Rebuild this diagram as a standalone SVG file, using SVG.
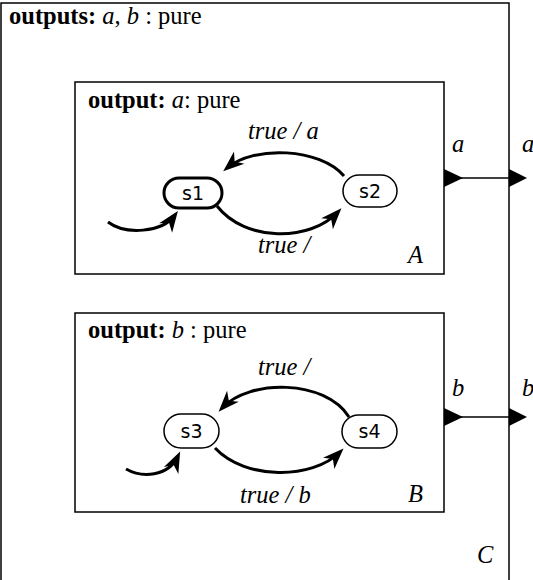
<svg xmlns="http://www.w3.org/2000/svg" width="533" height="580" viewBox="0 0 533 580">
<style>
.box{fill:#fff;stroke:#000;stroke-width:1.5}
.st{fill:#fff;stroke:#000;stroke-width:1.5}
.init{stroke-width:3}
.lbl{font-family:"Liberation Serif",serif;font-size:24.5px;fill:#000}
.b{font-weight:bold}
.i{font-style:italic}
.sn{font-family:"DejaVu Sans",sans-serif;font-size:19px;fill:#000;text-anchor:middle}
.tr{fill:none;stroke:#000;stroke-width:3}
.conn{stroke:#000;stroke-width:1.5}
</style>
<defs>
<marker id="ah" markerUnits="userSpaceOnUse" markerWidth="26" markerHeight="20" viewBox="0 -10 22 20" refX="16" refY="0" orient="auto">
<path d="M0,-8 L21,0 L0,8 L6,0 z" fill="#000"/>
</marker>
</defs>
<g id="C">
<rect class="box" x="1" y="3" width="508" height="600"/>
<text class="lbl" x="9" y="24"><tspan class="b">outputs:</tspan> <tspan class="i">a</tspan>, <tspan class="i">b</tspan> : pure</text>
<text class="lbl i" x="477" y="563">C</text>
</g>
<g id="A">
<rect class="box" x="75" y="82" width="369" height="192"/>
<text class="lbl" x="88" y="108"><tspan class="b">output:</tspan> <tspan class="i">a</tspan>: pure</text>
<text class="lbl i" x="408" y="263">A</text>
</g>
<g id="s1">
<rect class="st init" x="164" y="178" width="58" height="30" rx="15"/>
<text class="sn" x="193" y="200">s1</text>
</g>
<g id="s2">
<rect class="st" x="343" y="175" width="54" height="32" rx="16"/>
<text class="sn" x="370" y="198">s2</text>
</g>
<g id="B">
<rect class="box" x="75" y="313" width="369" height="199"/>
<text class="lbl" x="88" y="338"><tspan class="b">output:</tspan> <tspan class="i">b</tspan> : pure</text>
<text class="lbl i" x="408" y="502">B</text>
</g>
<g id="s3">
<rect class="st" x="164" y="414" width="55" height="34" rx="17"/>
<text class="sn" x="191.5" y="438">s3</text>
</g>
<g id="s4">
<rect class="st" x="342" y="415" width="55" height="33" rx="16.5"/>
<text class="sn" x="369.5" y="438">s4</text>
</g>
<g id="connectors">
<path class="tr" d="M108,222 C125,235 162,233 175,215" marker-end="url(#ah)"/>
<path class="tr" d="M344,176 C320,148 254,145 227,168" marker-end="url(#ah)"/>
<path class="tr" d="M217,206 C245,242 310,242 338,212" marker-end="url(#ah)"/>
<text class="lbl i" x="248" y="139">true / a</text>
<text class="lbl i" x="258" y="253">true /</text>
<path class="tr" d="M126,469 C142,478 168,477 178,456" marker-end="url(#ah)"/>
<path class="tr" d="M349,417 C325,379 249,379 222,408" marker-end="url(#ah)"/>
<path class="tr" d="M215,448 C245,480 312,480 340,452" marker-end="url(#ah)"/>
<text class="lbl i" x="258" y="375">true /</text>
<text class="lbl i" x="240" y="503">true / b</text>
<line class="conn" x1="455" y1="178" x2="510" y2="178"/>
<polygon points="444,169 463,178 444,187" fill="#000"/>
<polygon points="509,169 527,178 509,187" fill="#000"/>
<text class="lbl i" x="452" y="152">a</text>
<text class="lbl i" x="522" y="152">a</text>
<line class="conn" x1="455" y1="417" x2="510" y2="417"/>
<polygon points="444,408 463,417 444,426" fill="#000"/>
<polygon points="509,408 527,417 509,426" fill="#000"/>
<text class="lbl i" x="452" y="396">b</text>
<text class="lbl i" x="522" y="396">b</text>
</g>
</svg>
